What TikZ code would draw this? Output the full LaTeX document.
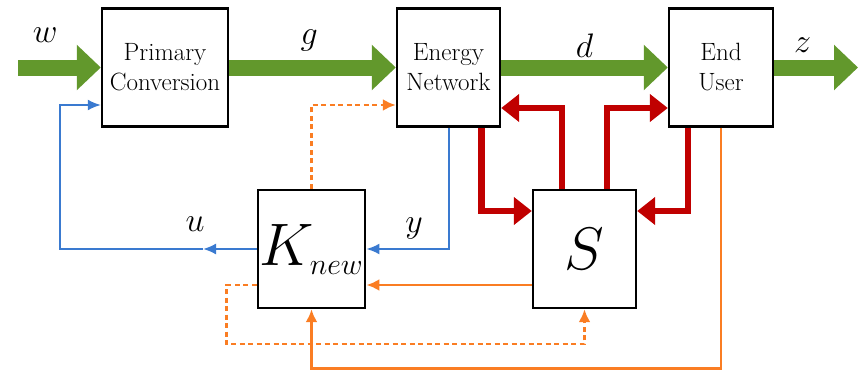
\RequirePackage{fix-cm}
\documentclass[tikz,border=0pt]{standalone}
\usepackage{xcolor}
\usepackage{tikz}
\usetikzlibrary{arrows.meta, positioning}
\definecolor{flowgreen}{RGB}{98,152,44}
\definecolor{sigred}{RGB}{192,0,0}
\definecolor{measblue}{RGB}{58,122,208}
\definecolor{ctrlorange}{RGB}{250,125,35}
\newcommand{\subtext}[1]{\hbox{\fontsize{30}{34}\selectfont$#1$}}
\tikzset{
  block/.style     = {rectangle, draw, line width=2.4pt, fill=white,
                      font=\fontsize{25}{30}\selectfont,   % box text
                      minimum height=118pt, inner sep=2pt, align=center},
  bigblock/.style  = {block, font=\fontsize{60}{70}\selectfont},
  lbl/.style       = {font=\fontsize{34}{40}\selectfont, inner sep=0pt, anchor=base},
  energy/.style    = {draw=flowgreen, line width=16pt, -{Triangle[length=24pt, width=44pt]}},
  power/.style     = {draw=sigred, line width=6.5pt, -{Triangle[length=18pt, width=27pt]}},
  meas/.style      = {draw=measblue, line width=2pt, -{Latex[length=13pt, width=11pt]}},
  ctrl/.style      = {draw=ctrlorange, line width=2.6pt, -{Latex[length=13pt, width=12pt]}},
  cmd/.style       = {ctrl, dash pattern=on 5pt off 3.5pt}
}

\begin{document}
\begin{tikzpicture}[x=1pt, y=-1pt]
  \useasboundingbox (0,0) rectangle (861,372);
  % blocks
  \node[block, minimum width=126pt] (pc) at (165,67.5) {Primary\\Conversion};
  \node[block, minimum width=103pt] (en) at (448.5,67.5) {Energy\\Network};
  \node[block, minimum width=104pt] (eu) at (721,67.5) {End\\User};
  \node[bigblock, minimum width=103pt] (k) at (311.5,249) {$K_{\subtext{new}}$};
  \node[bigblock, minimum width=103pt] (sb) at (584.5,249) {$S$};
  \coordinate (win) at (18,67.5);
  \coordinate (zout) at (858,67.5);
  \coordinate (umid) at (203,249);
  \coordinate (ubend) at (60,249);

  % energy flow
  \draw[energy] (win) -- (pc.west) node[lbl, pos=0.33, yshift=25pt] (lw) {$w$};
  \draw[energy] (pc.east) -- (en.west) node[lbl, pos=0.48, yshift=23pt] (lg) {$g$};
  \draw[energy] (en.east) -- (eu.west) node[lbl, pos=0.5, yshift=10pt] (ld) {$d$};
  \draw[energy] (eu.east) -- (zout) node[lbl, pos=0.34, yshift=15pt] (lz) {$z$};

  % storage exchange
  \draw[power] ([xshift=33pt]en.south) |- ([yshift=38pt]sb.west);
  \draw[power] ([xshift=-22.5pt]sb.north) |- ([yshift=-40.5pt]en.east);
  \draw[power] ([xshift=22.5pt]sb.north) |- ([yshift=-40.5pt]eu.west);
  \draw[power] ([xshift=-33pt]eu.south) |- ([yshift=38pt]sb.east);

  % measurement and input
  \draw[meas] (en.south) |- (k.east) node[lbl, pos=0.71, yshift=17pt] (ly) {$y$};
  \draw[meas] (k.west) -- (umid) node[lbl, pos=1, xshift=-8pt, yshift=18pt] (lu) {$u$};
  \draw[meas] (umid) -- (ubend) |- ([yshift=-37.5pt]pc.west);

  % control signals
  \draw[ctrl] ([yshift=-36pt]sb.west) -- ([yshift=-36pt]k.east);
  \draw[ctrl] (eu.south) -- ++(0,241) -| (k.south);
  \draw[cmd] (k.north) |- ([yshift=-37.5pt]en.west);
  \draw[cmd] ([yshift=-36pt]k.west) -- ++(-30,0) -- ++(0,59) -| (sb.south);
\end{tikzpicture}
\end{document}
